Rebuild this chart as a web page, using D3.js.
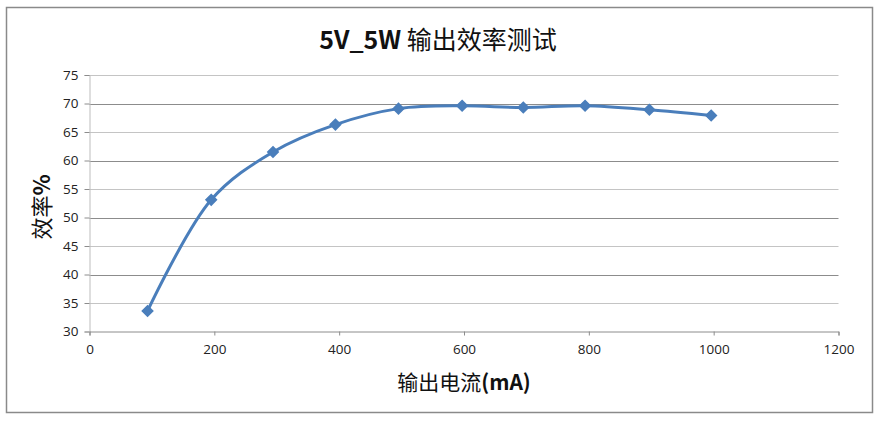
<!DOCTYPE html>
<html><head><meta charset="utf-8">
<script src="https://cdn.jsdelivr.net/npm/d3@7"></script>
<style>html,body{margin:0;padding:0;background:#fff;}svg{display:block;}</style>
</head><body><svg id="c" width="880" height="422"></svg>
<script>
const currentMA = [93, 195, 294, 394, 495, 597, 695, 794, 897, 996];
const efficiency = [33.6, 53.1, 61.5, 66.3, 69.1, 69.6, 69.3, 69.6, 68.9, 67.9];
const xTicks = [0, 200, 400, 600, 800, 1000, 1200];
const yTicks = [30, 35, 40, 45, 50, 55, 60, 65, 70, 75];
const titleBold = "5V_5W";
const titleRest = " 输出效率测试";
const yLabel = "效率%";
const xLabelCN = "输出电流";
const xLabelUnit = "(mA)";

const svg = d3.select("#c");
const font = "'Noto Sans CJK SC', 'Open Sans', sans-serif";
const x = d3.scaleLinear().domain([0, 1200]).range([89.5, 838.5]);
const y = d3.scaleLinear().domain([30, 75]).range([331.5, 75]);

// outer border
svg.append("rect").attr("x", 6.5).attr("y", 7.5).attr("width", 866).attr("height", 405)
  .attr("fill", "#fff").attr("stroke", "#8a8a8a").attr("stroke-width", 1.5);

// gridlines
svg.append("g").selectAll("line").data(yTicks.filter(d => d > 30)).join("line")
  .attr("x1", x(0)).attr("x2", x(1200))
  .attr("y1", d => Math.round(y(d)) + 0.5).attr("y2", d => Math.round(y(d)) + 0.5)
  .attr("stroke", d => d % 10 === 0 ? "#8c8c8c" : "#c4c4c4").attr("stroke-width", 1);

// y axis
const yAxis = svg.append("g").attr("transform", `translate(${x(0)},0)`)
  .call(d3.axisLeft(y).tickValues(yTicks).tickSize(5).tickPadding(6).tickFormat(d3.format("d")));
yAxis.select(".domain").attr("stroke", "#bdbdbd");
yAxis.selectAll(".tick line").attr("stroke", "#8c8c8c");
yAxis.selectAll("text").attr("font-family", "'Open Sans', 'DejaVu Sans', sans-serif")
  .attr("font-size", 13.5).attr("fill", "#222");

// x axis
const xAxis = svg.append("g").attr("transform", `translate(0,${y(30)})`)
  .call(d3.axisBottom(x).tickValues(xTicks).tickSize(4).tickPadding(9).tickFormat(d3.format("d")));
xAxis.select(".domain").attr("stroke", "#8c8c8c");
xAxis.selectAll(".tick line").attr("stroke", "#8c8c8c");
xAxis.selectAll("text").attr("font-family", "'Open Sans', 'DejaVu Sans', sans-serif")
  .attr("font-size", 13.5).attr("fill", "#222");

// line
const pts = currentMA.map((d, i) => [d, efficiency[i]]);
svg.append("path").datum(pts)
  .attr("d", d3.line().x(d => x(d[0])).y(d => y(d[1])).curve(d3.curveCatmullRom.alpha(0.5)))
  .attr("fill", "none").attr("stroke", "#4a7ebb").attr("stroke-width", 3);

// markers
svg.append("g").selectAll("path").data(pts).join("path")
  .attr("d", d3.symbol(d3.symbolDiamond2, 70))
  .attr("transform", d => `translate(${x(d[0])},${y(d[1])})`)
  .attr("fill", "#4a7ebb").attr("stroke", "#4a7ebb").attr("stroke-width", 1.5);

// title
const t = svg.append("text").attr("x", 438).attr("y", 49).attr("text-anchor", "middle")
  .attr("font-family", font).attr("font-size", 25).attr("fill", "#111");
t.append("tspan").attr("font-weight", "bold").text(titleBold);
t.append("tspan").attr("font-weight", "normal").text(titleRest);

// y label
svg.append("text").attr("transform", "translate(50,207) rotate(-90)").attr("text-anchor", "middle")
  .attr("font-family", font).attr("font-size", 22).attr("fill", "#111")
  .call(s => { s.append("tspan").text("效率"); s.append("tspan").attr("font-weight", "bold").text("%"); });

// x label
const xl = svg.append("text").attr("x", 464).attr("y", 390).attr("text-anchor", "middle")
  .attr("font-family", font).attr("font-size", 21).attr("fill", "#111");
xl.append("tspan").text(xLabelCN);
xl.append("tspan").attr("font-weight", "bold").text(xLabelUnit);
</script></body></html>
